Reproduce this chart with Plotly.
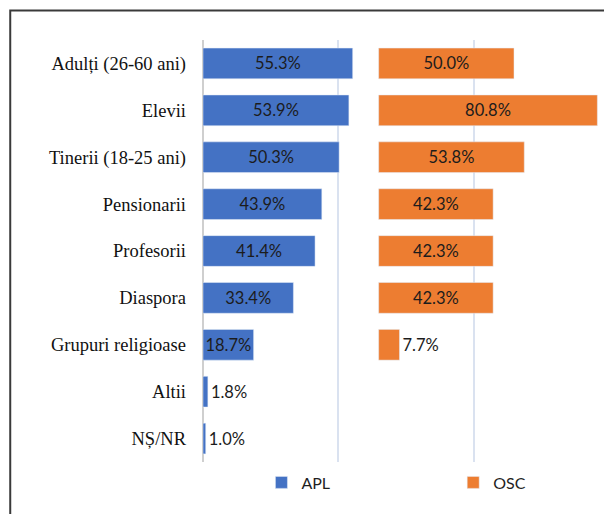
import plotly.graph_objects as go

categories = [
    "Adulți (26-60 ani)",
    "Elevii",
    "Tinerii (18-25 ani)",
    "Pensionarii",
    "Profesorii",
    "Diaspora",
    "Grupuri religioase",
    "Altii",
    "NȘ/NR",
]
apl = [55.3, 53.9, 50.3, 43.9, 41.4, 33.4, 18.7, 1.8, 1.0]
osc = [50.0, 80.8, 53.8, 42.3, 42.3, 42.3, 7.7, None, None]

# the OSC panel sits to the right of the APL one on the same scale
OSC_START = 64.9

# page body adds an 8px margin, so the figure is drawn 8px in and down
OFF = 8
W, H = 612 - OFF, 514 - OFF
L, R, T, B = 202.5 - OFF, 3, 40.2 - OFF, 51.5
PW, PH = W - L - R, H - T - B


def px_x(p):
    return (p - OFF - L) / PW


def px_y(p):
    return (H - B - (p - OFF)) / PH


def positions(vals):
    # short bars get their label just past the end, the rest in the middle
    return ["inside" if v is not None and v >= 10 else "outside" for v in vals]


label_font = dict(family="Lato, Open Sans, sans-serif", size=16.5, color="#1c1c1c")
legend_font = dict(family="Lato, sans-serif", size=16, color="#1f1f1f")

fig = go.Figure()
fig.add_trace(go.Bar(
    y=categories, x=apl, orientation="h", name="APL",
    marker=dict(color="#4472C4"),
    text=[f"{v:.1f}%" for v in apl], textposition=positions(apl),
    insidetextanchor="middle", textfont=label_font, constraintext="none",
    cliponaxis=False, legend="legend", showlegend=True,
))
fig.add_trace(go.Bar(
    y=categories, x=osc, base=OSC_START, orientation="h", name="OSC",
    marker=dict(color="#ED7D31"),
    text=[f"{v:.1f}%" if v is not None else "" for v in osc], textposition=positions(osc),
    insidetextanchor="middle", textfont=label_font, constraintext="none",
    cliponaxis=False, legend="legend2", showlegend=True,
))

fig.update_layout(
    width=W, height=H,
    margin=dict(l=L, r=R, t=T, b=B),
    paper_bgcolor="white", plot_bgcolor="white",
    barmode="overlay", bargap=0.345, showlegend=True,
    uniformtext=dict(mode=False),
    font=dict(family="Lato, sans-serif", color="#1f1f1f"),
    legend=dict(orientation="h", x=px_x(261), y=px_y(483), xanchor="left", yanchor="middle",
                font=legend_font, bgcolor="rgba(0,0,0,0)"),
    legend2=dict(orientation="h", x=px_x(453), y=px_y(483), xanchor="left", yanchor="middle",
                 font=legend_font, bgcolor="rgba(0,0,0,0)"),
    shapes=[dict(type="rect", xref="paper", yref="paper",
                 x0=px_x(9.5), x1=px_x(640), y0=px_y(540), y1=px_y(10.7),
                 line=dict(color="#3a3a3a", width=2), layer="below")],
)
fig.update_xaxes(range=[0, 150], tickvals=[0, 50, 100], showticklabels=False,
                 showgrid=True, gridcolor="#dae2f0", gridwidth=1.5,
                 zeroline=True, zerolinecolor="#cfcfcf", zerolinewidth=1.5,
                 showline=False, fixedrange=True)
fig.update_yaxes(autorange="reversed", showgrid=False, showline=False, ticks="",
                 ticklabelstandoff=16,
                 tickfont=dict(family="Liberation Serif, Times New Roman, serif", size=18.5, color="#111111"))

fig.write_html("out.html")
